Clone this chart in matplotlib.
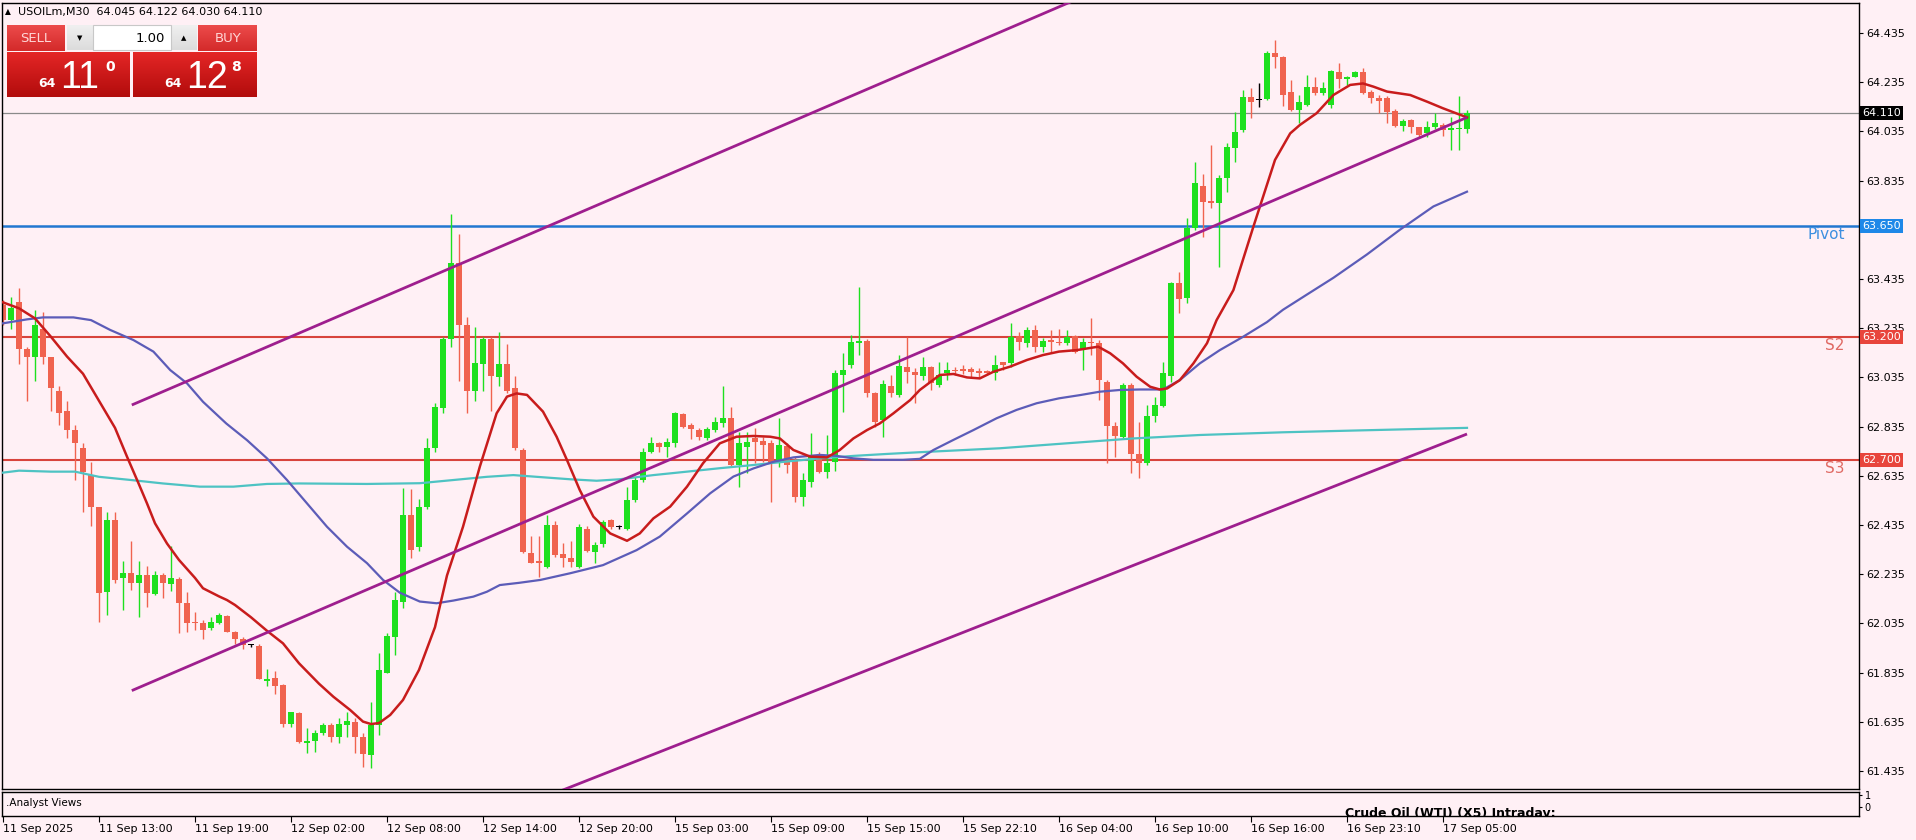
import numpy as np
import matplotlib.pyplot as plt
from matplotlib.patches import Rectangle
from matplotlib.colors import LinearSegmentedColormap
from matplotlib.transforms import blended_transform_factory

# USOILm M30 candles (open, high, low, close)
opens = [63.33, 63.27, 63.34, 63.15, 63.117, 63.23, 63.12, 62.98, 62.90, 62.82,
         62.75, 62.64, 62.51, 62.164, 62.455, 62.22, 62.24, 62.20, 62.23, 62.155,
         62.23, 62.196, 62.215, 62.117, 62.04, 62.036, 62.015, 62.036, 62.065, 62.0,
         61.97, 61.946, 61.944, 61.80, 61.812, 61.785, 61.626, 61.67, 61.55, 61.559,
         61.589, 61.622, 61.575, 61.624, 61.636, 61.575, 61.50, 61.622, 61.835, 61.979,
         62.124, 62.476, 62.347, 62.51, 62.747, 62.91, 63.19, 63.50, 63.25, 62.98,
         63.09, 63.19, 63.035, 63.09, 62.99, 62.74, 62.323, 62.29, 62.266, 62.435,
         62.317, 62.30, 62.266, 62.42, 62.327, 62.358, 62.455, 62.426, 62.42, 62.537,
         62.618, 62.733, 62.767, 62.754, 62.767, 62.886, 62.842, 62.821, 62.79, 62.821,
         62.851, 62.869, 62.679, 62.754, 62.788, 62.778, 62.767, 62.693, 62.756, 62.699,
         62.55, 62.611, 62.713, 62.652, 62.692, 63.045, 63.086, 63.175, 63.183, 62.973,
         62.862, 63.0, 62.963, 63.076, 63.058, 63.041, 63.076, 63.004, 63.054, 63.065,
         63.069, 63.068, 63.063, 63.062, 63.054, 63.096, 63.092, 63.204, 63.174, 63.228,
         63.16, 63.187, 63.18, 63.174, 63.204, 63.15, 63.18, 63.174, 63.018, 62.837,
         62.791, 63.004, 62.724, 62.686, 62.878, 62.919, 63.041, 63.42, 63.356, 63.641,
         63.813, 63.753, 63.743, 63.844, 63.966, 64.041, 64.173, 64.163, 64.165, 64.352,
         64.336, 64.197, 64.122, 64.142, 64.214, 64.19, 64.142, 64.278, 64.247, 64.258,
         64.278, 64.197, 64.17, 64.17, 64.119, 64.057, 64.081, 64.051, 64.03, 64.054,
         64.061, 64.041, 64.043, 64.045]
highs = [63.35, 63.36, 63.40, 63.16, 63.31, 63.30, 63.12, 63.00, 62.94, 62.84,
         62.77, 62.69, 62.51, 62.49, 62.49, 62.29, 62.37, 62.29, 62.27, 62.25,
         62.24, 62.35, 62.225, 62.164, 62.08, 62.05, 62.063, 62.076, 62.07, 62.006,
         61.98, 61.95, 61.95, 61.85, 61.84, 61.79, 61.677, 61.673, 61.61, 61.602,
         61.629, 61.629, 61.65, 61.676, 61.65, 61.588, 61.717, 61.914, 61.998, 62.164,
         62.584, 62.58, 62.54, 62.79, 62.93, 63.20, 63.70, 63.62, 63.28, 63.24,
         63.20, 63.20, 63.22, 63.17, 63.04, 62.75, 62.39, 62.39, 62.476, 62.45,
         62.36, 62.37, 62.44, 62.43, 62.367, 62.455, 62.458, 62.434, 62.591, 62.632,
         62.747, 62.794, 62.774, 62.787, 62.896, 62.889, 62.848, 62.828, 62.835, 62.875,
         63.0, 62.916, 62.814, 62.814, 62.828, 62.794, 62.781, 62.869, 62.767, 62.713,
         62.645, 62.808, 62.733, 62.801, 63.065, 63.133, 63.207, 63.404, 63.19, 62.977,
         63.025, 63.045, 63.126, 63.2, 63.072, 63.119, 63.081, 63.099, 63.099, 63.079,
         63.085, 63.079, 63.072, 63.065, 63.126, 63.099, 63.255, 63.221, 63.241, 63.248,
         63.194, 63.228, 63.23, 63.228, 63.207, 63.194, 63.275, 63.187, 63.024, 62.855,
         63.011, 63.011, 62.855, 62.923, 62.957, 63.099, 63.424, 63.465, 63.682, 63.912,
         63.862, 63.98, 63.858, 63.987, 64.115, 64.203, 64.21, 64.23, 64.363, 64.406,
         64.342, 64.244, 64.183, 64.264, 64.257, 64.237, 64.285, 64.312, 64.26, 64.282,
         64.291, 64.203, 64.183, 64.179, 64.125, 64.084, 64.084, 64.054, 64.079, 64.111,
         64.068, 64.095, 64.18, 64.122]
lows = [63.25, 63.23, 63.09, 62.94, 63.02, 63.09, 62.90, 62.84, 62.79, 62.62,
        62.49, 62.43, 62.04, 62.07, 62.20, 62.09, 62.17, 62.06, 62.10, 62.15,
        62.14, 62.165, 61.995, 62.0, 62.01, 61.97, 62.01, 62.033, 62.0, 61.95,
        61.93, 61.938, 61.808, 61.78, 61.75, 61.615, 61.615, 61.548, 61.507, 61.514,
        61.582, 61.555, 61.548, 61.575, 61.507, 61.453, 61.446, 61.582, 61.832, 61.907,
        62.096, 62.30, 62.33, 62.50, 62.733, 62.89, 63.16, 63.02, 62.89, 62.94,
        62.98, 62.90, 63.0, 62.97, 62.74, 62.32, 62.28, 62.225, 62.26, 62.306,
        62.266, 62.266, 62.26, 62.327, 62.28, 62.347, 62.418, 62.418, 62.415, 62.53,
        62.611, 62.726, 62.733, 62.713, 62.754, 62.828, 62.783, 62.781, 62.78, 62.815,
        62.835, 62.672, 62.591, 62.645, 62.686, 62.69, 62.53, 62.672, 62.645, 62.53,
        62.513, 62.591, 62.645, 62.625, 62.656, 62.896, 63.072, 63.126, 62.957, 62.835,
        62.794, 62.957, 62.957, 63.011, 62.93, 63.024, 62.984, 62.997, 63.024, 63.045,
        63.049, 63.038, 63.038, 63.045, 63.024, 63.065, 63.079, 63.146, 63.16, 63.14,
        63.14, 63.133, 63.167, 63.167, 63.133, 63.065, 63.126, 62.943, 62.686, 62.713,
        62.787, 62.645, 62.625, 62.679, 62.855, 62.916, 63.018, 63.296, 63.336, 63.634,
        63.607, 63.722, 63.485, 63.79, 63.912, 64.034, 64.088, 64.136, 64.163, 64.291,
        64.138, 64.12, 64.07, 64.138, 64.183, 64.183, 64.129, 64.21, 64.224, 64.255,
        64.187, 64.149, 64.11, 64.07, 64.051, 64.038, 64.027, 64.014, 64.014, 64.043,
        64.016, 63.96, 63.96, 64.030]
closes = [63.27, 63.316, 63.15, 63.12, 63.248, 63.12, 62.99, 62.89, 62.82, 62.77,
          62.65, 62.51, 62.16, 62.455, 62.21, 62.24, 62.20, 62.23, 62.16, 62.23,
          62.20, 62.22, 62.117, 62.038, 62.035, 62.01, 62.04, 62.07, 62.0, 61.97,
          61.948, 61.946, 61.808, 61.81, 61.78, 61.626, 61.673, 61.553, 61.557, 61.589,
          61.622, 61.575, 61.626, 61.637, 61.575, 61.505, 61.622, 61.846, 61.984, 62.13,
          62.476, 62.333, 62.51, 62.75, 62.916, 63.19, 63.50, 63.25, 62.98, 63.095,
          63.19, 63.04, 63.09, 62.98, 62.75, 62.327, 62.282, 62.28, 62.435, 62.313,
          62.30, 62.286, 62.428, 62.33, 62.354, 62.448, 62.426, 62.426, 62.537, 62.618,
          62.733, 62.767, 62.754, 62.771, 62.892, 62.835, 62.824, 62.794, 62.824, 62.855,
          62.869, 62.679, 62.767, 62.774, 62.774, 62.76, 62.686, 62.76, 62.679, 62.55,
          62.618, 62.713, 62.652, 62.686, 63.052, 63.065, 63.18, 63.183, 62.97, 62.855,
          63.008, 62.97, 63.081, 63.058, 63.045, 63.076, 63.011, 63.045, 63.065, 63.061,
          63.06, 63.058, 63.052, 63.054, 63.085, 63.085, 63.201, 63.177, 63.228, 63.16,
          63.184, 63.18, 63.174, 63.201, 63.14, 63.18, 63.174, 63.024, 62.837, 62.797,
          63.004, 62.724, 62.686, 62.878, 62.923, 63.054, 63.42, 63.352, 63.641, 63.824,
          63.749, 63.745, 63.844, 63.973, 64.034, 64.176, 64.156, 64.163, 64.352, 64.336,
          64.183, 64.122, 64.156, 64.217, 64.19, 64.21, 64.282, 64.247, 64.258, 64.278,
          64.193, 64.17, 64.16, 64.115, 64.057, 64.079, 64.054, 64.02, 64.052, 64.068,
          64.041, 64.048, 64.05, 64.110]

# moving averages (bar index, price)
fast_x = [0, 2, 4, 6, 8, 10, 12, 14, 15.5, 17, 18, 19, 20.5, 22, 24, 25, 27, 28, 29, 31,
          33, 35, 37, 39.5, 41.3, 43.4, 45, 46, 47, 48.4, 50, 52, 54, 55.5, 57.5, 59.6,
          61.7, 63, 64.2, 65.5, 67.5, 69.2, 70.5, 72.1, 73.8, 75.9, 78, 79.6, 81.3, 83.4,
          85.5, 87.5, 89.6, 91.7, 93.8, 95.9, 97.1, 98.8, 100.9, 103, 104.6, 106.3, 108,
          109.6, 111.3, 113.4, 114.6, 117.1, 118.8, 120.5, 122.1, 123.8, 125.9, 128, 130,
          132, 134.2, 136.9, 138.4, 140, 141.7, 143.4, 144.6, 145.5, 147.1, 148.8, 150.5,
          151.7, 153.8, 156.3, 159, 160.9, 162.1, 164.2, 166.3, 168.4, 170, 171.3, 173,
          175.9, 178, 180, 183]
fast_y = [63.34, 63.316, 63.275, 63.20, 63.12, 63.05, 62.94, 62.83, 62.713, 62.60, 62.523,
          62.442, 62.36, 62.293, 62.22, 62.178, 62.145, 62.13, 62.11, 62.06, 62.005, 61.954,
          61.873, 61.79, 61.737, 61.683, 61.636, 61.626, 61.63, 61.663, 61.724, 61.846,
          62.02, 62.23, 62.428, 62.672, 62.889, 62.957, 62.97, 62.964, 62.896, 62.794,
          62.699, 62.577, 62.469, 62.401, 62.371, 62.401, 62.462, 62.51, 62.591, 62.686,
          62.767, 62.794, 62.797, 62.794, 62.787, 62.74, 62.713, 62.71, 62.74, 62.787,
          62.821, 62.848, 62.889, 62.943, 62.984, 63.045, 63.049, 63.035, 63.031, 63.058,
          63.079, 63.106, 63.126, 63.14, 63.146, 63.16, 63.133, 63.092, 63.038, 62.997,
          62.986, 62.99, 63.024, 63.092, 63.174, 63.268, 63.39, 63.648, 63.919, 64.027,
          64.061, 64.109, 64.183, 64.224, 64.23, 64.217, 64.197, 64.183, 64.156, 64.129,
          64.092]
mid_x = [0, 3, 5, 8.8, 11, 13.4, 16.3, 18.8, 20.9, 23, 25, 27.9, 30.5, 33, 35.5, 38, 40.5,
         43, 45.5, 47.5, 49.6, 52.1, 54.2, 56.3, 58.8, 60.5, 62.1, 64.5, 67.2, 70.9, 75,
         79.2, 82.1, 85.5, 88.4, 91.3, 93.8, 96.3, 98.8, 102.1, 104.2, 106.3, 108.8, 112.5,
         114.6, 116.3, 118.8, 121.3, 124.2, 126.7, 129.2, 132, 134.6, 137.1, 139.6, 142.1,
         145, 147.1, 149.6, 152.1, 155, 158, 160, 162.9, 166.3, 170.5, 174.6, 178.8, 183]
mid_y = [63.255, 63.271, 63.279, 63.279, 63.268, 63.228, 63.187, 63.14, 63.065, 63.011,
         62.936, 62.848, 62.78, 62.706, 62.618, 62.523, 62.428, 62.347, 62.28, 62.212,
         62.16, 62.124, 62.117, 62.128, 62.144, 62.164, 62.191, 62.20, 62.212, 62.239,
         62.272, 62.333, 62.388, 62.482, 62.564, 62.632, 62.665, 62.692, 62.71, 62.72,
         62.716, 62.706, 62.70, 62.70, 62.704, 62.74, 62.781, 62.821, 62.869, 62.903,
         62.93, 62.95, 62.963, 62.977, 62.984, 62.986, 62.986, 63.024, 63.092, 63.146,
         63.20, 63.26, 63.31, 63.37, 63.44, 63.535, 63.635, 63.73, 63.79]
slow_x = [0, 2, 6, 9, 12, 16, 20, 24.6, 28.8, 33, 37, 45.5, 52.1, 56.3, 60.5, 63.8, 66.7,
          70.9, 74.2, 77.1, 81.3, 85.5, 89.6, 93.8, 97.9, 102.1, 106.3, 110.5, 114.6, 124.6,
          132.9, 141.3, 149.6, 160, 170, 183]
slow_y = [62.648, 62.656, 62.652, 62.652, 62.631, 62.618, 62.604, 62.591, 62.591, 62.602,
          62.604, 62.602, 62.605, 62.618, 62.631, 62.638, 62.631, 62.621, 62.615, 62.621,
          62.638, 62.652, 62.666, 62.679, 62.693, 62.706, 62.716, 62.724, 62.731, 62.747,
          62.767, 62.787, 62.801, 62.812, 62.82, 62.83]

# drawn trend channel (start/end bar index and price)
chan_x = [[16.1, 140], [16.1, 183], [60, 183]]
chan_y = [[62.923, 64.653], [61.762, 64.092], [61.23, 62.805]]

levels = [63.650, 63.200, 62.700]
level_names = ['Pivot', 'S2', 'S3']
last_price = 64.110

tick_idx = list(range(0, 181, 12))
tick_labels = ['11 Sep 2025', '11 Sep 13:00', '11 Sep 19:00', '12 Sep 02:00', '12 Sep 08:00',
               '12 Sep 14:00', '12 Sep 20:00', '15 Sep 03:00', '15 Sep 09:00', '15 Sep 15:00',
               '15 Sep 22:10', '16 Sep 04:00', '16 Sep 10:00', '16 Sep 16:00', '16 Sep 23:10',
               '17 Sep 05:00']
price_ticks = [61.435 + 0.2 * k for k in range(16)]

BG = '#FFF0F5'
BULL = '#1EE01E'
BEAR = '#F0634F'

W, H = 1916, 840
fig = plt.figure(figsize=(W / 100, H / 100), dpi=100, facecolor=BG)


def fx(x):
    return x / W


def fy(y):
    return 1 - y / H


ax = fig.add_axes([fx(2), fy(789), (1859 - 2) / W, (789 - 3) / H], facecolor=BG)
ax.set_xlim(-0.125, 232)
ax.set_ylim(61.362, 64.557)

o = np.array(opens)
h = np.array(highs)
l = np.array(lows)
c = np.array(closes)
idx = np.arange(len(o))
cols = np.where(c > o + 0.0015, BULL, np.where(c < o - 0.0015, BEAR, 'black'))

# horizontal levels
ax.axhline(last_price, color='#8A8A8A', lw=0.9, zorder=1)
ax.axhline(levels[0], color='#2277D0', lw=1.8, zorder=1)
ax.axhline(levels[1], color='#D8443C', lw=1.5, zorder=1)
ax.axhline(levels[2], color='#D8443C', lw=1.5, zorder=1)

# candles
ax.vlines(idx, l, h, colors=cols, lw=1, zorder=2)
ax.bar(idx, np.maximum(np.abs(c - o), 0.004), bottom=np.minimum(o, c), width=0.65,
       color=cols, linewidth=0, zorder=2)

# moving averages
ax.plot(slow_x, slow_y, color='#4EC3C3', lw=1.6, zorder=3)
ax.plot(mid_x, mid_y, color='#5C5CB8', lw=1.6, zorder=3)
ax.plot(fast_x, fast_y, color='#C81C1C', lw=1.8, zorder=3)

# channel
for xs, ys in zip(chan_x, chan_y):
    ax.plot(xs, ys, color='#9E1E8E', lw=2, zorder=4, solid_capstyle='butt')

# level names
ax.text(230.2, levels[0] - 0.005, level_names[0], ha='right', va='top', color='#3D8FE0', fontsize=11)
ax.text(230.2, levels[1] - 0.005, level_names[1], ha='right', va='top', color='#E06A64', fontsize=11)
ax.text(230.2, levels[2] - 0.005, level_names[2], ha='right', va='top', color='#E06A64', fontsize=11)

# right price scale (the 63.635 label sits under the pivot tag in the terminal)
ax.yaxis.tick_right()
ax.set_yticks(price_ticks)
ax.set_yticklabels(['' if abs(p - 63.635) < 1e-6 else '%.3f' % p for p in price_ticks])
ax.tick_params(axis='y', direction='out', length=3, width=0.8, pad=2, labelsize=8, colors='black')
ax.set_xticks([])
for s in ax.spines.values():
    s.set_color('black')
    s.set_linewidth(1)

trans = blended_transform_factory(ax.transAxes, ax.transData)
tags = [(last_price, 'black'), (levels[0], '#1E88E8'), (levels[1], '#E8453C'), (levels[2], '#E8453C')]
for val, col in tags:
    ax.text(1.0017, val, '%.3f' % val, transform=trans, ha='left', va='center', fontsize=8,
            color='white', zorder=10, clip_on=False,
            bbox=dict(boxstyle='square,pad=0.18', fc=col, ec='none'))

# indicator sub-window
sub = fig.add_axes([fx(2), fy(816), (1859 - 2) / W, (816 - 792) / H], facecolor=BG)
sub.set_xlim(-0.125, 232)
sub.set_ylim(-0.75, 1.25)
sub.yaxis.tick_right()
sub.set_yticks([0, 1])
sub.set_yticklabels(['0', '1'])
sub.tick_params(axis='y', direction='out', length=2, pad=2, labelsize=7)
sub.set_xticks(tick_idx)
sub.set_xticklabels(tick_labels, ha='left')
sub.tick_params(axis='x', direction='out', length=4, width=0.8, pad=2, labelsize=8)
for s in sub.spines.values():
    s.set_color('black')
    s.set_linewidth(1)
sub.text(0.002, 0.55, '.Analyst Views', transform=sub.transAxes, fontsize=7.5, va='center')
sub.text(167.8, -1.05, 'Crude Oil (WTI) (X5) Intraday:', fontsize=9, fontweight='bold',
         va='bottom', ha='left', clip_on=True)

# header and trade panel
fig.text(fx(5), fy(12), '\u25b2', fontsize=5.5, va='center')
fig.text(fx(18), fy(12), 'USOILm,M30  64.045 64.122 64.030 64.110', fontsize=8, va='center')


def grad_box(x0, y0, x1, y1, top, bottom):
    a = fig.add_axes([fx(x0), fy(y1), (x1 - x0) / W, (y1 - y0) / H])
    cmap = LinearSegmentedColormap.from_list('g', [top, bottom])
    a.imshow(np.linspace(0, 1, 40).reshape(-1, 1), aspect='auto', cmap=cmap, extent=(0, 1, 0, 1))
    a.set_axis_off()
    return a


grad_box(7, 25, 65, 51, '#EC4B4B', '#D42A2A')
grad_box(198, 25, 257, 51, '#EC4B4B', '#D42A2A')
grad_box(7, 52, 130, 97, '#E42626', '#B20C0C')
grad_box(133, 52, 257, 97, '#E42626', '#B20C0C')
grad_box(67, 25, 93, 50, '#F0F0F0', '#DCDCDC')
grad_box(171, 25, 197, 50, '#F0F0F0', '#DCDCDC')
fig.add_artist(Rectangle((fx(93), fy(50)), 78 / W, 25 / H, transform=fig.transFigure,
                         fc='white', ec='#C8C8C8', lw=0.8))

fig.text(fx(36), fy(38), 'SELL', color='#FFD6D6', fontsize=9.5, ha='center', va='center')
fig.text(fx(228), fy(38), 'BUY', color='#FFD6D6', fontsize=9.5, ha='center', va='center')
fig.text(fx(165), fy(38), '1.00', color='black', fontsize=9.5, ha='right', va='center')
fig.text(fx(80), fy(38), '\u25bc', fontsize=5, ha='center', va='center')
fig.text(fx(184), fy(38), '\u25b2', fontsize=5, ha='center', va='center')

fig.text(fx(38), fy(87), '64', color='white', fontsize=9, fontweight='bold', va='baseline')
fig.text(fx(60), fy(88), '11', color='white', fontsize=27, family='Liberation Sans', va='baseline')
fig.text(fx(105), fy(71), '0', color='white', fontsize=10, fontweight='bold', va='baseline')
fig.text(fx(164), fy(87), '64', color='white', fontsize=9, fontweight='bold', va='baseline')
fig.text(fx(186), fy(88), '12', color='white', fontsize=27, family='Liberation Sans', va='baseline')
fig.text(fx(231), fy(71), '8', color='white', fontsize=10, fontweight='bold', va='baseline')

fig.savefig('out.png', dpi=100, facecolor=BG)
